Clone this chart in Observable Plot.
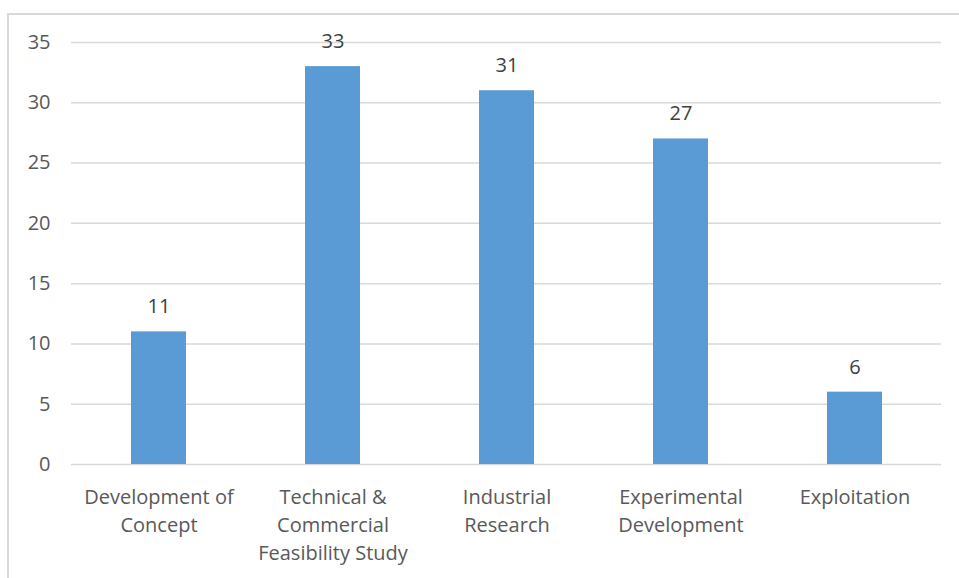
<!DOCTYPE html>
<html>
<head>
<meta charset="utf-8">
<script src="https://cdn.jsdelivr.net/npm/d3@7"></script>
<script src="https://cdn.jsdelivr.net/npm/@observablehq/plot@0.6"></script>
<style>
  html, body { margin: 0; padding: 0; background: #fff; }
  #wrap { position: relative; width: 959px; height: 578px; overflow: hidden; }
  #frame { position: absolute; left: 7px; top: 13px; width: 960px; height: 600px;
           border-top: 2px solid #d9d9d9; border-left: 2px solid #d9d9d9; box-sizing: border-box; }
  #chart { position: absolute; left: 0; top: 0; }
</style>
</head>
<body>
<div id="wrap"><div id="frame"></div><div id="chart"></div></div>
<script>
const categories = [
  "Development of\nConcept",
  "Technical &\nCommercial\nFeasibility Study",
  "Industrial\nResearch",
  "Experimental\nDevelopment",
  "Exploitation"
];
const values = [11, 33, 31, 27, 6];
const yTicks = [0, 5, 10, 15, 20, 25, 30, 35];

const data = categories.map((c, i) => ({category: c, value: values[i]}));
const font = "Open Sans, Liberation Sans, sans-serif";

const chart = Plot.plot({
  width: 959,
  height: 578,
  marginLeft: 71,
  marginRight: 18,
  marginTop: 42,
  marginBottom: 114,
  style: {fontFamily: font, fontSize: "20px", color: "#595959", background: "transparent"},
  x: {domain: categories, paddingInner: 0.684, paddingOuter: 0.342, label: null},
  y: {domain: [0, 35], ticks: yTicks, label: null},
  marks: [
    Plot.gridY(yTicks, {stroke: "#d9d9d9", strokeOpacity: 1, strokeWidth: 1.5}),
    Plot.barY(data, {x: "category", y: "value", fill: "#5b9bd5"}),
    Plot.text(data, {x: "category", y: "value", text: d => String(d.value), dy: -25,
      fill: "#404040", fontSize: 20}),
    Plot.axisY(yTicks, {tickSize: 0, tickPadding: 21, fill: "#595959", fontSize: 20, label: null}),
    Plot.axisX({tickSize: 0, tickPadding: 20, fill: "#595959", fontSize: 20, lineHeight: 1.4, label: null, textAnchor: "middle"})
  ]
});
document.getElementById("chart").appendChild(chart);
</script>
</body>
</html>
